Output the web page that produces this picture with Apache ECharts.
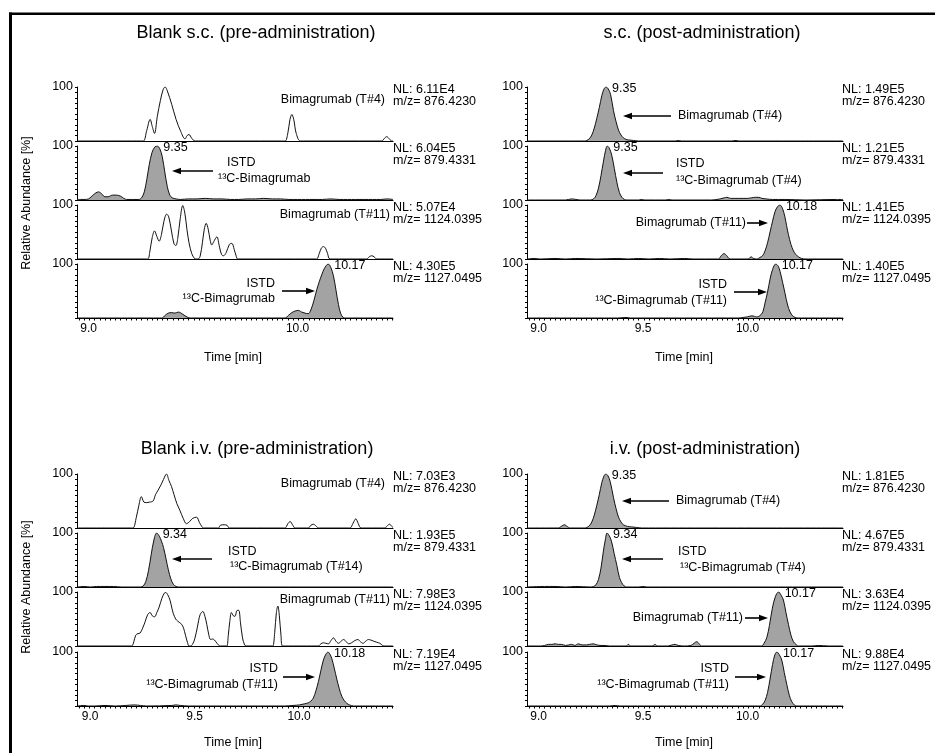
<!DOCTYPE html>
<html><head><meta charset="utf-8">
<script src="https://cdn.jsdelivr.net/npm/echarts@6/dist/echarts.min.js"></script>
<style>html,body{margin:0;padding:0;background:#fff}#c{width:935px;height:753px}</style>
</head><body><div id="c"></div>
<script>
// ---------------- DATA (time [min], relative abundance [%]) ----------------
const mzValues = ['876.4230', '879.4331', '1124.0395', '1127.0495'];

// Blank s.c. (pre-administration)
const scPreNL = ['6.11E4', '6.04E5', '5.07E4', '4.30E5'];
const scPreApex = [null, '9.35', null, '10.17'];
const scPreT4 = [[8.966,0],[9.27,0],[9.284,0],[9.3,20],[9.316,40],[9.326,27],[9.337,14],[9.35,45],[9.365,75],[9.378,95],[9.388,100],[9.398,93],[9.419,68],[9.44,40],[9.462,18],[9.483,4],[9.493,10],[9.502,12],[9.515,5],[9.531,0],[9.945,0],[9.962,0],[9.975,15],[9.985,40],[9.994,49],[10.003,40],[10.015,14],[10.034,0],[10.05,0],[10.41,0],[10.424,0],[10.437,5],[10.448,8],[10.46,4],[10.472,0],[10.478,0]];
const scPreIstdT4 = [[8.966,1],[9.0,1],[9.021,2],[9.045,10],[9.069,15],[9.085,11],[9.1,6],[9.115,6],[9.135,9],[9.155,9],[9.175,7],[9.19,3],[9.204,1],[9.262,1],[9.275,4],[9.288,15],[9.3,38],[9.312,66],[9.325,88],[9.338,98],[9.35,100],[9.362,95],[9.374,80],[9.386,52],[9.398,25],[9.41,9],[9.422,4],[9.44,2],[9.46,1],[9.5,2],[9.54,2],[9.58,3],[9.62,2],[9.66,2],[9.7,1],[9.74,1],[9.78,2],[9.82,2],[9.86,3],[9.9,2],[9.94,2],[9.98,1],[10.02,1],[10.06,1],[10.1,1],[10.14,1],[10.18,2],[10.22,1],[10.26,1],[10.3,1],[10.34,1],[10.38,1],[10.42,1],[10.45,2],[10.478,1]];
const scPreT11 = [[8.966,0],[9.29,0],[9.305,0],[9.315,15],[9.326,40],[9.337,52],[9.348,42],[9.359,33],[9.37,45],[9.382,70],[9.395,83],[9.405,78],[9.418,52],[9.43,28],[9.439,25],[9.448,38],[9.46,75],[9.472,99],[9.482,85],[9.492,55],[9.502,30],[9.515,10],[9.528,1],[9.534,0],[9.545,0],[9.555,5],[9.566,30],[9.575,55],[9.584,66],[9.594,55],[9.603,35],[9.611,26],[9.62,32],[9.635,41],[9.648,22],[9.658,8],[9.667,6],[9.68,12],[9.695,27],[9.707,29],[9.718,18],[9.728,5],[9.735,0],[10.1,0],[10.113,0],[10.125,10],[10.135,20],[10.145,23],[10.155,20],[10.165,10],[10.177,0],[10.34,0],[10.352,0],[10.364,4],[10.376,6],[10.388,4],[10.4,0],[10.478,0]];
const scPreIstdT11 = [[8.966,0],[9.36,0],[9.372,0],[9.388,5],[9.403,9],[9.418,10],[9.435,9],[9.451,11],[9.468,8],[9.483,4],[9.497,1],[9.507,0],[9.95,0],[9.962,0],[9.978,5],[9.994,10],[10.01,13],[10.026,14],[10.041,11],[10.057,9],[10.072,8],[10.085,15],[10.1,33],[10.113,52],[10.125,67],[10.137,80],[10.15,92],[10.168,100],[10.18,94],[10.193,78],[10.205,52],[10.217,25],[10.228,8],[10.24,1],[10.25,0],[10.478,0]];

// s.c. (post-administration)
const scPostNL = ['1.49E5', '1.21E5', '1.41E5', '1.40E5'];
const scPostApex = ['9.35', '9.35', '10.18', '10.17'];
const scPostT4 = [[8.966,0],[9.2,0],[9.24,0],[9.252,1],[9.264,4],[9.276,11],[9.288,24],[9.3,42],[9.312,62],[9.324,84],[9.334,96],[9.344,100],[9.354,97],[9.366,86],[9.38,56],[9.392,36],[9.404,20],[9.416,11],[9.427,6],[9.44,3],[9.451,2],[9.475,1],[9.5,0],[9.675,0],[9.69,1],[9.705,0],[9.945,0],[9.962,1],[9.98,0],[10.478,0]];
const scPostIstdT4 = [[8.966,0],[9.15,0],[9.18,2],[9.2,1],[9.22,0],[9.27,0],[9.284,2],[9.296,8],[9.308,22],[9.32,45],[9.332,72],[9.342,92],[9.35,100],[9.36,96],[9.372,82],[9.384,58],[9.396,33],[9.408,14],[9.42,5],[9.432,1],[9.445,0],[9.5,0],[9.51,1],[9.53,0],[9.63,0],[9.643,1],[9.66,0],[9.85,0],[9.89,2],[9.91,4],[9.922,5],[9.94,3],[9.96,3],[9.98,3],[10.0,3],[10.02,3],[10.04,4],[10.06,5],[10.075,5],[10.09,3],[10.11,2],[10.14,1],[10.2,1],[10.3,0],[10.44,1],[10.478,1]];
const scPostT11 = [[8.966,0],[9.0,1],[9.03,0],[9.1,1],[9.15,0],[9.2,1],[9.3,0],[9.4,1],[9.45,0],[9.5,1],[9.55,0],[9.6,1],[9.65,0],[9.72,1],[9.76,0],[9.87,0],[9.882,0],[9.895,6],[9.909,10],[9.922,6],[9.938,0],[10.025,0],[10.038,4],[10.05,1],[10.065,0],[10.081,3],[10.093,6],[10.105,15],[10.117,30],[10.129,50],[10.141,70],[10.153,88],[10.165,97],[10.176,100],[10.188,94],[10.2,78],[10.208,62],[10.217,45],[10.229,27],[10.241,15],[10.253,8],[10.265,4],[10.28,1],[10.3,0],[10.478,0]];
const scPostIstdT11 = [[8.966,0],[9.4,0],[9.44,1],[9.46,0],[9.98,0],[10.0,1],[10.02,2],[10.041,4],[10.055,3],[10.065,2],[10.075,3],[10.085,6],[10.095,12],[10.105,28],[10.117,48],[10.129,72],[10.141,90],[10.156,100],[10.168,96],[10.177,86],[10.189,66],[10.201,45],[10.213,24],[10.225,11],[10.237,4],[10.249,1],[10.265,0],[10.478,0]];

// Blank i.v. (pre-administration)
const ivPreNL = ['7.03E3', '1.93E5', '7.98E3', '7.19E4'];
const ivPreApex = [null, '9.34', null, '10.18'];
const ivPreT4 = [[8.966,0],[9.22,0],[9.234,0],[9.25,20],[9.262,42],[9.274,58],[9.286,48],[9.298,47],[9.314,48],[9.33,50],[9.342,62],[9.354,70],[9.368,80],[9.38,90],[9.394,100],[9.406,88],[9.418,77],[9.43,62],[9.444,45],[9.458,33],[9.474,18],[9.49,8],[9.505,12],[9.52,18],[9.538,20],[9.552,10],[9.563,3],[9.571,0],[9.635,0],[9.643,0],[9.652,5],[9.67,6],[9.684,5],[9.695,0],[9.955,0],[9.962,0],[9.975,8],[9.986,12],[9.997,6],[10.01,0],[10.065,0],[10.073,0],[10.085,5],[10.097,7],[10.109,4],[10.121,0],[10.265,0],[10.273,0],[10.287,9],[10.3,17],[10.312,8],[10.325,0],[10.435,0],[10.44,0],[10.45,4],[10.462,7],[10.472,3],[10.478,1]];
const ivPreIstdT14 = [[8.966,0],[9.0,1],[9.03,0],[9.06,1],[9.1,1],[9.14,1],[9.18,0],[9.27,0],[9.283,2],[9.295,10],[9.308,30],[9.321,60],[9.334,87],[9.347,100],[9.36,94],[9.37,85],[9.38,73],[9.392,52],[9.403,32],[9.415,15],[9.427,5],[9.44,1],[9.455,0],[10.478,0]];
const ivPreT11 = [[8.966,0],[9.22,0],[9.228,0],[9.238,8],[9.247,20],[9.258,23],[9.268,24],[9.28,33],[9.292,45],[9.304,58],[9.316,62],[9.326,56],[9.337,54],[9.348,62],[9.359,72],[9.372,88],[9.384,98],[9.391,99],[9.4,95],[9.411,85],[9.42,70],[9.427,60],[9.438,50],[9.448,46],[9.458,43],[9.467,40],[9.476,33],[9.485,20],[9.495,6],[9.502,0],[9.51,0],[9.52,4],[9.53,14],[9.542,35],[9.555,58],[9.568,64],[9.578,55],[9.587,40],[9.596,22],[9.605,12],[9.614,13],[9.624,11],[9.636,5],[9.651,0],[9.675,0],[9.683,0],[9.69,20],[9.697,45],[9.705,62],[9.714,56],[9.722,55],[9.732,66],[9.74,66],[9.748,44],[9.758,15],[9.768,2],[9.775,0],[9.895,0],[9.903,0],[9.912,25],[9.92,62],[9.927,74],[9.934,57],[9.942,20],[9.95,0],[10.11,0],[10.121,0],[10.133,4],[10.145,6],[10.157,5],[10.169,4],[10.181,10],[10.193,15],[10.205,9],[10.217,5],[10.23,9],[10.242,12],[10.254,8],[10.266,4],[10.28,6],[10.295,10],[10.31,12],[10.322,8],[10.334,5],[10.348,9],[10.36,12],[10.372,11],[10.385,9],[10.4,7],[10.415,5],[10.428,1],[10.435,0],[10.478,0]];
const ivPreIstdT11 = [[8.966,0],[9.0,1],[9.02,0],[9.05,0],[9.1,1],[9.15,0],[9.2,1],[9.24,2],[9.27,1],[9.3,0],[9.42,1],[9.44,2],[9.46,1],[9.5,0],[9.96,0],[10.0,1],[10.03,2],[10.055,4],[10.073,6],[10.085,9],[10.097,15],[10.109,28],[10.121,45],[10.133,66],[10.145,85],[10.157,96],[10.167,100],[10.176,96],[10.185,88],[10.197,70],[10.209,50],[10.221,32],[10.233,18],[10.245,10],[10.257,5],[10.27,2],[10.29,0],[10.478,0]];

// i.v. (post-administration)
const ivPostNL = ['1.81E5', '4.67E5', '3.63E4', '9.88E4'];
const ivPostApex = ['9.35', '9.34', '10.17', '10.17'];
const ivPostT4 = [[8.966,0],[9.1,0],[9.116,0],[9.13,3],[9.145,6],[9.158,3],[9.172,0],[9.24,0],[9.252,1],[9.264,4],[9.276,11],[9.288,24],[9.3,42],[9.312,62],[9.324,84],[9.334,96],[9.343,100],[9.353,97],[9.364,86],[9.38,56],[9.392,36],[9.404,20],[9.416,11],[9.427,6],[9.447,3],[9.467,2],[9.49,1],[9.515,0],[10.478,0]];
const ivPostIstdT4 = [[8.966,0],[9.05,1],[9.1,1],[9.15,0],[9.2,1],[9.27,0],[9.284,1],[9.296,4],[9.308,14],[9.32,35],[9.331,65],[9.342,90],[9.349,100],[9.358,96],[9.37,85],[9.383,62],[9.396,40],[9.408,18],[9.419,8],[9.431,2],[9.443,0],[9.5,0],[9.52,1],[9.54,0],[10.478,0]];
const ivPostT11 = [[8.966,0],[9.03,0],[9.05,1],[9.069,3],[9.085,3],[9.1,4],[9.116,3],[9.132,3],[9.15,1],[9.165,2],[9.18,3],[9.195,1],[9.212,4],[9.23,2],[9.25,2],[9.265,3],[9.284,4],[9.3,2],[9.32,1],[9.34,1],[9.36,0],[9.44,0],[9.451,3],[9.462,0],[9.565,0],[9.579,3],[9.59,0],[9.64,0],[9.66,2],[9.675,3],[9.69,1],[9.72,0],[9.75,1],[9.765,5],[9.778,8],[9.79,4],[9.8,0],[10.08,0],[10.089,0],[10.1,5],[10.113,15],[10.126,38],[10.14,70],[10.155,92],[10.17,100],[10.182,94],[10.193,85],[10.205,62],[10.217,40],[10.229,20],[10.241,8],[10.253,3],[10.265,0],[10.33,0],[10.36,1],[10.41,0],[10.478,0]];
const ivPostIstdT11 = [[8.966,0],[9.36,0],[9.388,1],[9.41,0],[10.07,0],[10.081,0],[10.093,3],[10.105,10],[10.117,25],[10.129,50],[10.141,77],[10.152,95],[10.162,100],[10.173,95],[10.185,85],[10.197,62],[10.209,40],[10.221,20],[10.233,8],[10.245,2],[10.257,0],[10.478,0]];

// ---------------- LAYOUT ----------------
const FONT = '"Liberation Sans", Arial, Helvetica, sans-serif';
const X_MIN = 8.966, X_MAX = 10.478;
const GRID_W = 316, ROW_H = 54;
const FILL = '#a3a3a3';

const panels = [
  { title: 'Blank s.c. (pre-administration)', traces: [scPreT4, scPreIstdT4, scPreT11, scPreIstdT11],
    filled: [false, true, false, true], nl: scPreNL, apex: scPreApex,
    left: 77, tops: [87, 146, 205, 264], titleX: 256, titleY: 33, timeX: 233, timeY: 358,
    tickLabels: [9.0, 10.0], labelShift: 4.5, nlX: 393 },
  { title: 's.c. (post-administration)', traces: [scPostT4, scPostIstdT4, scPostT11, scPostIstdT11],
    filled: [true, true, true, true], nl: scPostNL, apex: scPostApex,
    left: 527, tops: [87, 146, 205, 264], titleX: 702, titleY: 33, timeX: 684, timeY: 358,
    tickLabels: [9.0, 9.5, 10.0], labelShift: 4.5, nlX: 842 },
  { title: 'Blank i.v. (pre-administration)', traces: [ivPreT4, ivPreIstdT14, ivPreT11, ivPreIstdT11],
    filled: [false, true, false, true], nl: ivPreNL, apex: ivPreApex,
    left: 77, tops: [474, 533, 592, 652], titleX: 257, titleY: 449, timeX: 233, timeY: 743,
    tickLabels: [9.0, 9.5, 10.0], labelShift: 6, nlX: 393 },
  { title: 'i.v. (post-administration)', traces: [ivPostT4, ivPostIstdT4, ivPostT11, ivPostIstdT11],
    filled: [true, true, true, true], nl: ivPostNL, apex: ivPostApex,
    left: 527, tops: [474, 533, 592, 652], titleX: 705, titleY: 449, timeX: 684, timeY: 743,
    tickLabels: [9.0, 9.5, 10.0], labelShift: 4.5, nlX: 842 }
];

// annotation layout (pixels): texts and arrows
const annotations = [
  // Blank s.c.
  { t: 'Bimagrumab (T#4)', x: 385, y: 100, a: 'right' },
  { t: 'ISTD', x: 227, y: 163, a: 'left' },
  { t: '¹³C-Bimagrumab', x: 218, y: 179, a: 'left' },
  { arrow: [213, 171, 172, 171] },
  { t: 'Bimagrumab (T#11)', x: 390, y: 215, a: 'right' },
  { t: 'ISTD', x: 275, y: 284, a: 'right' },
  { t: '¹³C-Bimagrumab', x: 275, y: 299, a: 'right' },
  { arrow: [282, 291, 315, 291] },
  // s.c. post
  { t: 'Bimagrumab (T#4)', x: 678, y: 116, a: 'left' },
  { arrow: [671, 116, 623, 116] },
  { t: 'ISTD', x: 676, y: 164, a: 'left' },
  { t: '¹³C-Bimagrumab (T#4)', x: 676, y: 181, a: 'left' },
  { arrow: [663, 173, 623, 173] },
  { t: 'Bimagrumab (T#11)', x: 746, y: 223, a: 'right' },
  { arrow: [747, 223, 768, 223] },
  { t: 'ISTD', x: 727, y: 285, a: 'right' },
  { t: '¹³C-Bimagrumab (T#11)', x: 727, y: 301, a: 'right' },
  { arrow: [734, 292, 767, 292] },
  // Blank i.v.
  { t: 'Bimagrumab (T#4)', x: 385, y: 484, a: 'right' },
  { t: 'ISTD', x: 228, y: 552, a: 'left' },
  { t: '¹³C-Bimagrumab (T#14)', x: 230, y: 567, a: 'left' },
  { arrow: [212, 559, 172, 559] },
  { t: 'Bimagrumab (T#11)', x: 390, y: 600, a: 'right' },
  { t: 'ISTD', x: 278, y: 669, a: 'right' },
  { t: '¹³C-Bimagrumab (T#11)', x: 278, y: 685, a: 'right' },
  { arrow: [283, 677, 315, 677] },
  // i.v. post
  { t: 'Bimagrumab (T#4)', x: 676, y: 501, a: 'left' },
  { arrow: [669, 501, 622, 501] },
  { t: 'ISTD', x: 678, y: 552, a: 'left' },
  { t: '¹³C-Bimagrumab (T#4)', x: 680, y: 568, a: 'left' },
  { arrow: [663, 559, 622, 559] },
  { t: 'Bimagrumab (T#11)', x: 743, y: 618, a: 'right' },
  { arrow: [745, 618, 768, 618] },
  { t: 'ISTD', x: 729, y: 669, a: 'right' },
  { t: '¹³C-Bimagrumab (T#11)', x: 729, y: 685, a: 'right' },
  { arrow: [735, 677, 766, 677] }
];

// ---------------- BUILD ----------------
const minorTicks = [];
for (let i = 0; i <= 60; i++) minorTicks.push(+(8.975 + i * 0.025).toFixed(3));

const grids = [], xAxes = [], yAxes = [], series = [], graphics = [];

function txt(text, x, y, align, size, extra) {
  return Object.assign({
    type: 'text', x: x, y: y, silent: true,
    style: { text: text, x: 0, y: 0, fill: '#000', font: size + 'px ' + FONT,
      align: align, verticalAlign: 'middle', textAlign: align, textVerticalAlign: 'middle' }
  }, extra || {});
}

panels.forEach((p, pi) => {
  graphics.push(txt(p.title, p.titleX, p.titleY, 'center', 18));
  graphics.push(txt('Time [min]', p.timeX, p.timeY, 'center', 12.5));
  p.traces.forEach((data, r) => {
    const idx = pi * 4 + r;
    const last = r === 3;
    grids.push({ left: p.left, top: p.tops[r], width: GRID_W, height: ROW_H });
    xAxes.push({
      type: 'value', gridIndex: idx, min: X_MIN, max: X_MAX,
      axisLine: { show: true, onZero: false, lineStyle: { color: '#000', width: 1.2 } },
      axisTick: last ? { show: true, length: 2.5, customValues: minorTicks, lineStyle: { color: '#000', width: 1 } } : { show: false },
      axisLabel: last ? { show: true, customValues: p.tickLabels, formatter: v => v.toFixed(1), margin: 5,
        fontSize: 12, fontFamily: FONT, color: '#000', padding: [0, 0, 0, p.labelShift * 2] } : { show: false },
      splitLine: { show: false }
    });
    yAxes.push({
      type: 'value', gridIndex: idx, min: 0, max: 100, interval: 10,
      axisLine: { show: true, lineStyle: { color: '#000', width: 1 } },
      axisTick: { show: true, length: 2, lineStyle: { color: '#000', width: 1 } },
      axisLabel: { show: true, formatter: v => (v === 100 ? '100' : ''), margin: 4,
        fontSize: 12.5, fontFamily: FONT, color: '#000' },
      splitLine: { show: false }
    });
    const s = {
      type: 'line', xAxisIndex: idx, yAxisIndex: idx, data: data,
      showSymbol: false, symbol: 'none', smooth: 0.35, silent: true,
      lineStyle: { color: '#111', width: 1 }
    };
    if (p.filled[r]) s.areaStyle = { color: FILL, opacity: 1 };
    if (p.apex[r]) {
      let top = data[0];
      data.forEach(d => { if (d[1] > top[1]) top = d; });
      s.markPoint = {
        symbol: 'circle', symbolSize: 0, silent: true, animation: false,
        label: { show: true, position: 'right', distance: 6, offset: [0, 2], formatter: '{b}',
          color: '#000', fontSize: 12.5, fontFamily: FONT },
        data: [{ name: p.apex[r], coord: [top[0], top[1]] }]
      };
    }
    series.push(s);
    graphics.push(txt('NL: ' + p.nl[r], p.nlX, p.tops[r] + 2.5, 'left', 12.5));
    graphics.push(txt('m/z= ' + mzValues[r], p.nlX, p.tops[r] + 14.5, 'left', 12.5));
  });
});

// Y axis titles
graphics.push(txt('Relative Abundance [%]', 27, 203, 'center', 12.5, { rotation: Math.PI / 2 }));
graphics.push(txt('Relative Abundance [%]', 27, 587, 'center', 12.5, { rotation: Math.PI / 2 }));

// annotations
annotations.forEach(a => {
  if (a.arrow) {
    const [x1, y1, x2, y2] = a.arrow;
    const dir = x2 > x1 ? 1 : -1;
    graphics.push({ type: 'line', silent: true, shape: { x1: x1, y1: y1, x2: x2 - dir * 6, y2: y2 },
      style: { stroke: '#000', lineWidth: 1.6 } });
    graphics.push({ type: 'polygon', silent: true,
      shape: { points: [[x2, y2], [x2 - dir * 9, y2 - 3.2], [x2 - dir * 9, y2 + 3.2]] },
      style: { fill: '#000' } });
  } else {
    graphics.push(txt(a.t, a.x, a.y, a.a, 12.5));
  }
});

// frame (top and left border)
graphics.push({ type: 'rect', silent: true, shape: { x: 9, y: 12.5, width: 926, height: 2.6 }, style: { fill: '#000' } });
graphics.push({ type: 'rect', silent: true, shape: { x: 9, y: 12.5, width: 3, height: 741 }, style: { fill: '#000' } });

const chart = echarts.init(document.getElementById('c'), null, { renderer: 'canvas' });
chart.setOption({
  animation: false,
  backgroundColor: '#fff',
  grid: grids, xAxis: xAxes, yAxis: yAxes, series: series,
  graphic: { elements: graphics }
});
</script>
</body></html>
